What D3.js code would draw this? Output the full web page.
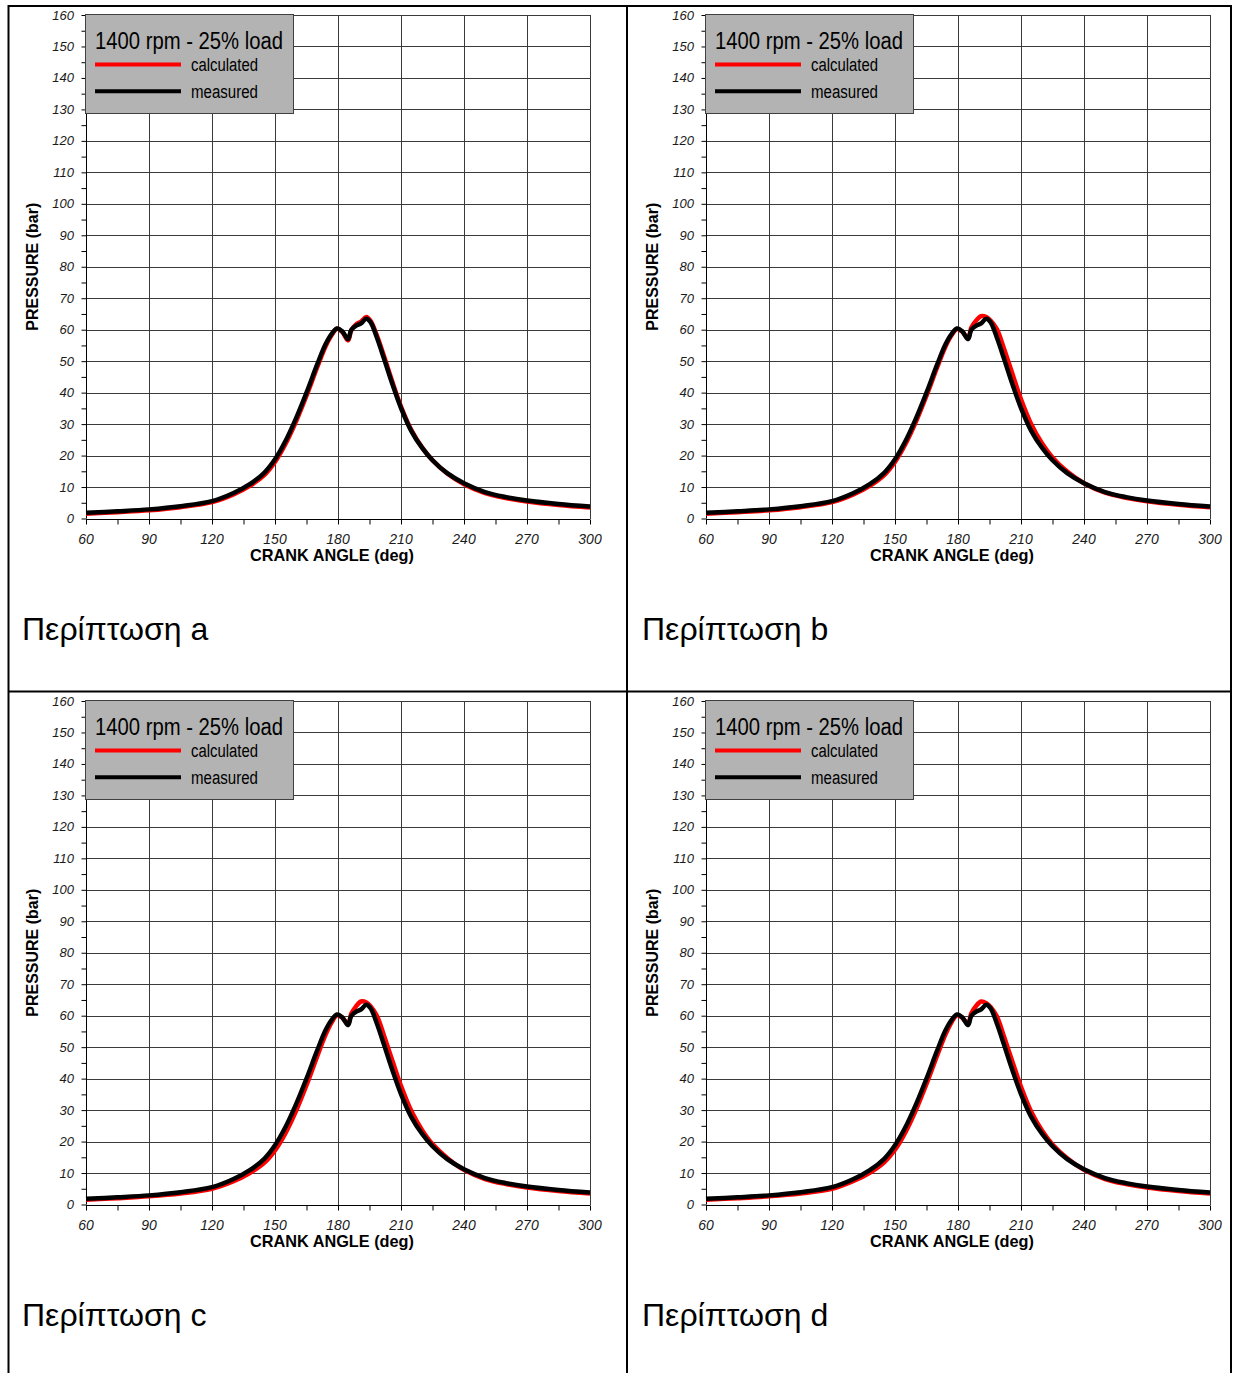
<!DOCTYPE html>
<html>
<head>
<meta charset="utf-8">
<script src="https://cdn.jsdelivr.net/npm/d3@7"></script>
<style>
  html, body { margin: 0; padding: 0; background: #fff; }
  svg { display: block; }
  text { font-family: Arial, "Liberation Sans", Helvetica, sans-serif; }
</style>
</head>
<body>
<svg id="chart" width="1233" height="1373"></svg>
<script>
// Crank angle samples (deg) shared by every trace
const angles = [60, 75, 90, 105, 120, 130, 138, 145, 150, 155, 160, 165, 170, 174, 177, 179.5, 182, 184.8, 186.3, 188.5, 191, 193.5, 195.5, 198.5, 202, 206, 210, 215, 220, 225, 232, 240, 250, 260, 270, 285, 300];

// Measured cylinder pressure (bar)
const measured = [1.8, 2.3, 2.9, 3.9, 5.5, 8.0, 10.9, 14.6, 18.8, 24.6, 31.8, 40.0, 48.8, 55.3, 58.7, 60.4, 59.5, 57.0, 59.9, 61.2, 62.0, 63.5, 62.4, 57.5, 50.6, 42.5, 35.1, 27.7, 22.5, 18.5, 14.4, 11.2, 8.4, 6.8, 5.7, 4.6, 3.8];

// Calculated cylinder pressure (bar), one array per case
const calcA = [1.5, 2.0, 2.6, 3.6, 5.2, 7.6, 10.4, 13.9, 18.0, 23.7, 30.8, 39.0, 47.9, 54.6, 58.3, 60.3, 59.3, 56.6, 59.8, 61.6, 62.6, 64.0, 62.8, 58.2, 51.4, 43.2, 35.6, 28.0, 22.6, 18.5, 14.3, 10.9, 8.1, 6.5, 5.4, 4.3, 3.5];
const calcB = [1.5, 2.0, 2.6, 3.6, 5.2, 7.6, 10.4, 13.9, 18.0, 23.7, 30.8, 39.0, 47.9, 54.6, 58.3, 60.2, 59.4, 57.2, 60.6, 62.8, 64.3, 64.0, 62.9, 60.2, 53.8, 45.8, 37.9, 29.8, 23.9, 19.4, 14.9, 11.2, 8.2, 6.6, 5.5, 4.4, 3.6];
const calcC = [1.5, 2.0, 2.6, 3.5, 5.0, 7.3, 10.0, 13.3, 17.2, 22.7, 29.7, 37.9, 46.9, 53.8, 57.9, 60.1, 59.4, 57.4, 60.6, 62.9, 64.5, 64.2, 63.0, 60.0, 53.5, 45.5, 37.7, 29.6, 23.7, 19.2, 14.8, 11.0, 8.1, 6.5, 5.4, 4.3, 3.5];
const calcD = [1.5, 2.0, 2.6, 3.5, 5.0, 7.4, 10.1, 13.5, 17.4, 23.0, 30.1, 38.3, 47.2, 54.0, 58.0, 60.1, 59.4, 57.4, 60.7, 63.0, 64.5, 64.0, 62.8, 59.8, 53.2, 45.2, 37.4, 29.3, 23.5, 19.1, 14.7, 11.0, 8.1, 6.5, 5.4, 4.3, 3.5];

// Axis ticks
const xTicks = [60, 90, 120, 150, 180, 210, 240, 270, 300];
const xMinorTicks = d3.range(60, 301, 15);
const yTicks = d3.range(0, 161, 10);
const yMinorTicks = d3.range(0, 161, 5);

// Text
const legendTitle = "1400 rpm - 25% load";
const seriesNames = ["calculated", "measured"];
const xTitle = "CRANK ANGLE (deg)";
const yTitle = "PRESSURE (bar)";
const captions = ["Περίπτωση a", "Περίπτωση b", "Περίπτωση c", "Περίπτωση d"];
const calcSeries = [calcA, calcB, calcC, calcD];

const svg = d3.select("#chart");
svg.append("rect").attr("width", 1233).attr("height", 1373).attr("fill", "#fff");

// Table frame around the four cases
const frame = svg.append("g").attr("stroke", "#000").attr("stroke-width", 2).attr("fill", "none");
frame.append("line").attr("x1", 8).attr("x2", 1232).attr("y1", 6).attr("y2", 6);
frame.append("line").attr("x1", 8).attr("x2", 1232).attr("y1", 691.5).attr("y2", 691.5);
frame.append("line").attr("x1", 8.5).attr("x2", 8.5).attr("y1", 5).attr("y2", 1373);
frame.append("line").attr("x1", 627).attr("x2", 627).attr("y1", 5).attr("y2", 1373);
frame.append("line").attr("x1", 1231).attr("x2", 1231).attr("y1", 5).attr("y2", 1373);

const cells = [
  { dx: 0, dy: 0 },
  { dx: 620, dy: 0 },
  { dx: 0, dy: 686 },
  { dx: 620, dy: 686 }
];

function drawPanel(cell, calc, caption) {
  const g = svg.append("g").attr("transform", `translate(${cell.dx},${cell.dy})`);
  const x = d3.scaleLinear().domain([60, 300]).range([86, 590]);
  const y = d3.scaleLinear().domain([0, 160]).range([518.5, 15]);

  // Grid
  const grid = g.append("g").attr("stroke", "#3a3a3a").attr("stroke-width", 1).attr("shape-rendering", "crispEdges");
  grid.selectAll("line.h").data(yTicks.filter(d => d > 0)).join("line")
    .attr("x1", x(60)).attr("x2", x(300))
    .attr("y1", d => Math.round(y(d)) + 0.5).attr("y2", d => Math.round(y(d)) + 0.5);
  grid.selectAll("line.v").data(xTicks.filter(d => d > 60)).join("line")
    .attr("y1", y(0)).attr("y2", y(160))
    .attr("x1", d => Math.round(x(d)) + 0.5).attr("x2", d => Math.round(x(d)) + 0.5);

  // Axes
  const xAxis = d3.axisBottom(x).tickValues(xMinorTicks).tickSize(5).tickFormat("");
  const yAxis = d3.axisLeft(y).tickValues(yMinorTicks).tickSize(5).tickFormat("");
  const gx = g.append("g").attr("transform", `translate(0,${Math.round(y(0)) + 0.5})`).call(xAxis);
  const gy = g.append("g").attr("transform", `translate(${Math.round(x(60)) + 0.5},0)`).call(yAxis);
  [gx, gy].forEach(a => {
    a.select(".domain").attr("stroke", "#000").attr("stroke-width", 1);
    a.selectAll(".tick line").attr("stroke", "#000");
  });
  gx.select(".domain").attr("d", `M${x(60)},0H${x(300)}`);
  gy.select(".domain").attr("d", `M0,${y(0)}V${y(160)}`);

  // Tick labels
  g.append("g").selectAll("text").data(xTicks).join("text")
    .attr("x", d => x(d)).attr("y", 544)
    .attr("text-anchor", "middle")
    .attr("font-size", 14).attr("font-style", "italic").attr("fill", "#1a1a1a")
    .text(d => d);
  g.append("g").selectAll("text").data(yTicks).join("text")
    .attr("x", 74).attr("y", d => y(d) + 4.5)
    .attr("text-anchor", "end")
    .attr("font-size", 13).attr("font-style", "italic").attr("fill", "#1a1a1a")
    .text(d => d);

  // Axis titles
  g.append("text").attr("x", 332).attr("y", 561)
    .attr("text-anchor", "middle").attr("font-size", 16.3).attr("font-weight", "bold")
    .text(xTitle);
  g.append("text").attr("transform", `translate(38,${(y(0) + y(160)) / 2}) rotate(-90)`)
    .attr("text-anchor", "middle").attr("font-size", 16).attr("font-weight", "bold")
    .text(yTitle);

  // Pressure traces
  const line = d3.line().x(d => x(d[0])).y(d => y(d[1])).curve(d3.curveCatmullRom.alpha(0.5));
  g.append("path").datum(angles.map((a, i) => [a, calc[i]]))
    .attr("d", line).attr("fill", "none").attr("stroke", "#ff0000")
    .attr("stroke-width", 4.5).attr("stroke-linejoin", "round");
  g.append("path").datum(angles.map((a, i) => [a, measured[i]]))
    .attr("d", line).attr("fill", "none").attr("stroke", "#000")
    .attr("stroke-width", 4.5).attr("stroke-linejoin", "round");

  // Legend
  const lg = g.append("g");
  lg.append("rect").attr("x", 85.5).attr("y", 14.5).attr("width", 208).attr("height", 99)
    .attr("fill", "#b3b3b3").attr("stroke", "#404040").attr("stroke-width", 1);
  lg.append("text").attr("x", 95).attr("y", 48.5).attr("font-size", 23)
    .attr("textLength", 188).attr("lengthAdjust", "spacingAndGlyphs")
    .text(legendTitle);
  const legendColors = ["#ff0000", "#000"];
  seriesNames.forEach((name, i) => {
    const ly = 64.5 + i * 26.7;
    lg.append("line").attr("x1", 95).attr("x2", 181).attr("y1", ly).attr("y2", ly)
      .attr("stroke", legendColors[i]).attr("stroke-width", 4);
    lg.append("text").attr("x", 191).attr("y", ly + 6.3).attr("font-size", 18)
      .attr("textLength", 67).attr("lengthAdjust", "spacingAndGlyphs")
      .text(name);
  });

  // Case caption
  g.append("text").attr("x", 22).attr("y", 640).attr("font-size", 32).text(caption);
}

cells.forEach((c, i) => drawPanel(c, calcSeries[i], captions[i]));
</script>
</body>
</html>
